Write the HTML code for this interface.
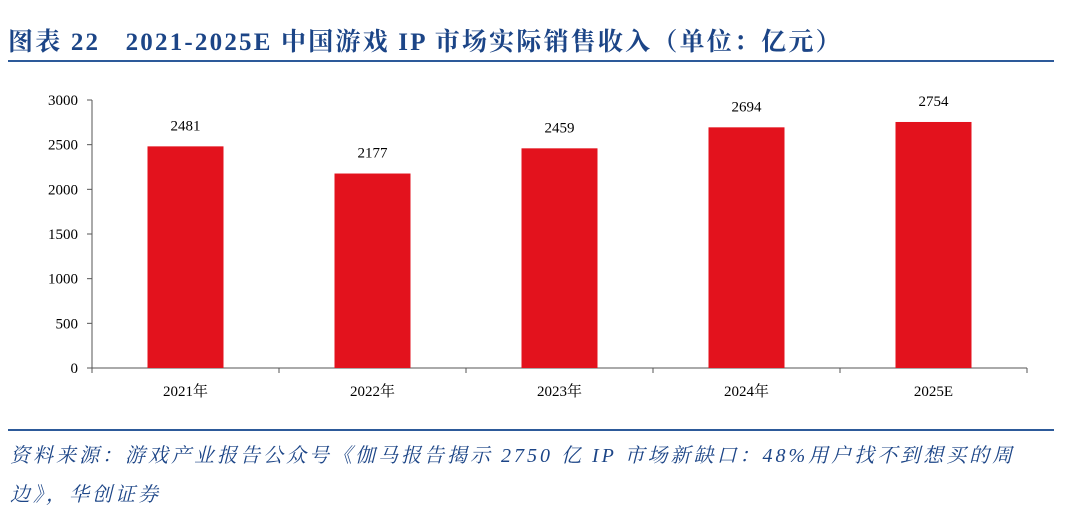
<!DOCTYPE html>
<html><head><meta charset="utf-8"><style>
body{margin:0;width:1080px;height:513px;background:#fff;overflow:hidden;position:relative;font-family:"Liberation Serif","Noto Serif CJK SC",serif}
.t{position:absolute;left:8px;top:22px;font-size:25px;font-weight:bold;color:#1c4587;white-space:nowrap;letter-spacing:2.2px;font-family:"Liberation Serif","Noto Serif CJK SC",serif}
.l{position:absolute;left:8px;width:1046px;height:2px;background:#2d5a9a}
.s{position:absolute;left:10px;font-size:20px;font-style:italic;color:#1c4587;white-space:nowrap;letter-spacing:3px;font-family:"Liberation Serif","Noto Serif CJK SC",serif}
</style></head><body>
<div class="t">图表 22&nbsp;&nbsp;&nbsp;2021-2025E 中国游戏 IP 市场实际销售收入（单位：亿元）</div>
<div class="l" style="top:60px"></div>
<svg id="c" width="1080" height="420" style="position:absolute;left:0;top:0"></svg>
<div class="l" style="top:429px"></div>
<div class="s" style="top:439px">资料来源：游戏产业报告公众号《伽马报告揭示 2750 亿 IP 市场新缺口：48%用户找不到想买的周</div>
<div class="s" style="top:478px">边》，华创证券</div>
<script>
const categories=["2021年","2022年","2023年","2024年","2025E"];
const values=[2481,2177,2459,2694,2754];
const ticks=[0,500,1000,1500,2000,2500,3000];
const NS="http://www.w3.org/2000/svg",svg=document.getElementById('c');
const x0=92,x1=1027,y0=368,y1=100,max=3000;
const y=v=>y0-(y0-y1)*v/max, band=(x1-x0)/categories.length, cx=i=>x0+band*(i+0.5);
function mk(t,a){const e=document.createElementNS(NS,t);for(const k in a)e.setAttribute(k,a[k]);svg.appendChild(e);return e;}
let e=mk('line',{x1:x0,x2:x0,y1:y1,y2:y0,stroke:'#555'});

e=mk('line',{x1:x0,x2:x1,y1:y0,y2:y0,stroke:'#555'});

ticks.forEach(t=>{
 mk('line',{x1:x0-5,x2:x0,y1:y(t),y2:y(t),stroke:'#555'});
 e=mk('text',{x:x0-14,y:y(t)+5,'text-anchor':'end','font-size':15,fill:'#000'});e.textContent=t;
 
});
for(let i=0;i<=categories.length;i++)mk('line',{x1:x0+band*i,x2:x0+band*i,y1:y0,y2:y0+5,stroke:'#555'});
categories.forEach((c,i)=>{
 e=mk('rect',{x:cx(i)-38,y:y(values[i]),width:76,height:y0-y(values[i]),fill:'#e3121d'});
 
 e=mk('text',{x:cx(i),y:y(values[i])-16,'text-anchor':'middle','font-size':15});e.textContent=values[i];
 
 e=mk('text',{x:cx(i),y:y0+28,'text-anchor':'middle','font-size':15});e.textContent=c;
 
});
</script>
</body></html>
